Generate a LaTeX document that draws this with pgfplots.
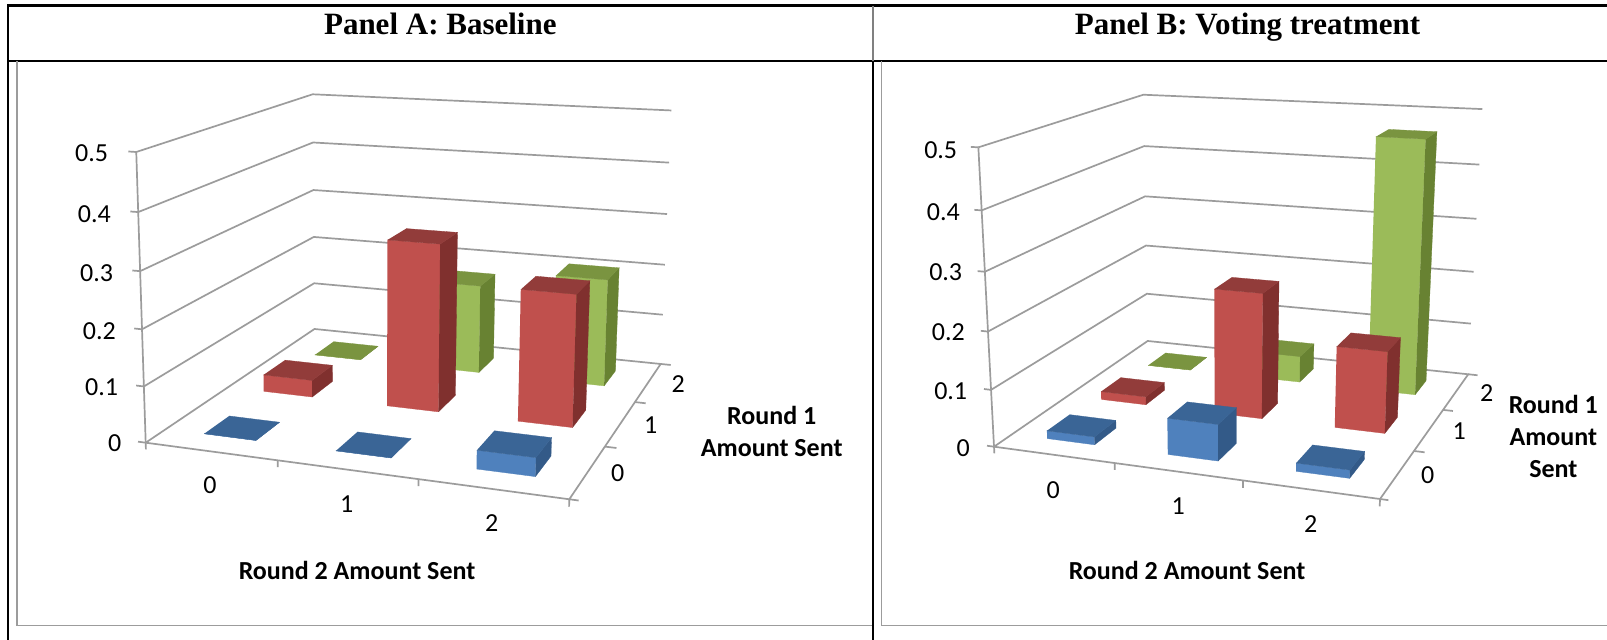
\documentclass[border=0pt]{standalone}
\usepackage{fontspec}
\setmainfont{Carlito}
\newfontfamily\timesf{Liberation Serif}
\usepackage{pgfplots}
\usepackage{pgfplotstable}
\pgfplotsset{compat=1.18}
\definecolor{Gf}{HTML}{9BBB59}\definecolor{Gt}{HTML}{7A9440}\definecolor{Gs}{HTML}{688232}
\definecolor{Rf}{HTML}{C0504D}\definecolor{Rt}{HTML}{923C3A}\definecolor{Rs}{HTML}{80302E}
\definecolor{Bf}{HTML}{4F81BD}\definecolor{Bt}{HTML}{3A6596}\definecolor{Bs}{HTML}{335A88}
\definecolor{ln}{HTML}{9C9C9C}
\pgfplotstableread{
U V W
0 0 0
1 0 0
1 0 1
0 0 1
}\FrontFace
\pgfplotstableread{
U V W
1 0 0
1 1 0
1 1 1
1 0 1
}\SideFace
\pgfplotstableread{
U V W
0 0 1
1 0 1
1 1 1
0 1 1
}\TopFace
% one projected polyline: X,Y in category units (0..3), Z = share
\newcommand\pl[2]{\addplot[ln,line width=0.85pt,#1] table[row sep=\\,
  x expr={pu(\thisrow{X},\thisrow{Y},\thisrow{Z})},
  y expr={pv(\thisrow{X},\thisrow{Y},\thisrow{Z})}]{X Y Z\\#2};}
\newcommand\face[5]{\addplot[fill=#5,draw=#5,line width=0.15pt] table[
  x expr={pu(#1+0.3+0.4*\thisrow{U},#2+0.3+0.4*\thisrow{V},#3*\thisrow{W})},
  y expr={pv(#1+0.3+0.4*\thisrow{U},#2+0.3+0.4*\thisrow{V},#3*\thisrow{W})}]{#4};}
% round 2 amount, round 1 amount, share, colour prefix
\newcommand\BarBox[4]{\face{#1}{#2}{#3}{\FrontFace}{#4f}\face{#1}{#2}{#3}{\SideFace}{#4s}\face{#1}{#2}{#3}{\TopFace}{#4t}}
\newcommand\WallBox{%
  \pl{}{0 0 0.1\\0 3 0.1\\3 3 0.1\\}\pl{}{0 0 0.2\\0 3 0.2\\3 3 0.2\\}
  \pl{}{0 0 0.3\\0 3 0.3\\3 3 0.3\\}\pl{}{0 0 0.4\\0 3 0.4\\3 3 0.4\\}
  \pl{}{0 0 0.5\\0 3 0.5\\3 3 0.5\\}
  \pl{}{0 0 0.5\\0 0 0\\}
  \pl{}{0 0 0\\0 3 0\\3 3 0\\3 0 0\\0 0 0\\}
  \pl{}{-0.06 0 0\\0 0 0\\}\pl{}{-0.06 0 0.1\\0 0 0.1\\}\pl{}{-0.06 0 0.2\\0 0 0.2\\}
  \pl{}{-0.06 0 0.3\\0 0 0.3\\}\pl{}{-0.06 0 0.4\\0 0 0.4\\}\pl{}{-0.06 0 0.5\\0 0 0.5\\}
  \pl{}{0 0 0\\0 0 -0.012\\}\pl{}{1 0 0\\1 0 -0.012\\}\pl{}{2 0 0\\2 0 -0.012\\}\pl{}{3 0 0\\3 0 -0.012\\}
  \pl{}{3 0 0\\3.06 0 0\\}\pl{}{3 1 0\\3.08 1 0\\}\pl{}{3 2 0\\3.08 2 0\\}\pl{}{3 3 0\\3.08 3 0\\}
}
\newcommand\tl[3]{\node[font=\fontsize{13}{15}\selectfont,inner sep=0pt,anchor=center] at (axis cs:#1,#2) {#3};}
\newcommand\bl[3]{\node[font=\fontsize{13}{15}\selectfont\bfseries,inner sep=0pt,anchor=base] at (axis cs:#1,#2) {#3};}
\newcommand\ttl[3]{\node[font=\fontsize{15.5}{17}\selectfont\timesf\bfseries,inner sep=0pt,anchor=base] at (axis cs:#1,#2) {#3};}
\pgfplotsset{canvas/.style={at={(0,0)},anchor=south west,width=803.5pt,height=320pt,scale only axis,
  xmin=0,xmax=1607,ymin=0,ymax=640,y dir=reverse,hide axis,clip=true}}
\begin{document}
\begin{tikzpicture}
\begin{axis}[canvas,
  declare function={
    pw(\x,\y,\z)=1-0.0953*\x/3+0.2487*\y/3-0.0407*\z/0.5;
    pu(\x,\y,\z)=(369.35*\x/3+247.0*\y/3-15*\z/0.5+145.7)/pw(\x,\y,\z);
    pv(\x,\y,\z)=(9.0*\x/3-31.9*\y/3-296.9*\z/0.5+442.7)/pw(\x,\y,\z);
  }]
\addplot[fill=white,draw=none] coordinates {(0,0) (1607,0) (1607,640) (0,640)};
% table rules
\addplot[black,line width=1.25pt] coordinates {(7,5.5) (1607,5.5)};
\addplot[black,line width=1pt] coordinates {(7.5,5) (7.5,640)};
\addplot[black,line width=0.8pt] coordinates {(7,61) (1607,61)};
\addplot[gray,line width=0.6pt] coordinates {(873,6) (873,61)};
\addplot[black,line width=1.1pt] coordinates {(873,61) (873,640)};
% panel A frame
\addplot[ln,line width=0.75pt] coordinates {(17,61) (17,625.7) (872,625.7)};
\WallBox
\BarBox{0}{2}{0}{G}\BarBox{1}{2}{0.172}{G}\BarBox{2}{2}{0.205}{G}
\BarBox{0}{1}{0.032}{R}\BarBox{1}{1}{0.308}{R}\BarBox{2}{1}{0.239}{R}
\BarBox{0}{0}{0}{B}\BarBox{1}{0}{0}{B}\BarBox{2}{0}{0.032}{B}
\ttl{440.3}{35}{Panel A: Baseline}
\tl{91.7}{153}{0.5}\tl{94.3}{214}{0.4}\tl{96.7}{273.3}{0.3}\tl{99.3}{331}{0.2}\tl{101.7}{386.7}{0.1}\tl{114.7}{443.3}{0}
\tl{210}{485}{0}\tl{346.7}{504.3}{1}\tl{491.7}{522.7}{2}
\tl{617.7}{473.3}{0}\tl{650.7}{425}{1}\tl{678.3}{384}{2}
\bl{771.7}{425}{Round 1}\bl{771.7}{456.7}{Amount Sent}
\bl{357}{580}{Round 2 Amount Sent}
\end{axis}
\begin{axis}[canvas,
  declare function={
    pw(\x,\y,\z)=1-0.0912*\x/3+0.2291*\y/3-0.0627*\z/0.5;
    pu(\x,\y,\z)=(260.1*\x/3+416.6*\y/3-77*\z/0.5+994)/pw(\x,\y,\z);
    pv(\x,\y,\z)=(6.8*\x/3-27.6*\y/3-308.6*\z/0.5+446.7)/pw(\x,\y,\z);
  }]
\addplot[ln,line width=0.75pt] coordinates {(881.7,61.5) (881.7,625.7) (1607,625.7)};
\WallBox
\BarBox{0}{2}{0}{G}\BarBox{1}{2}{0.05}{G}\BarBox{2}{2}{0.466}{G}
\BarBox{0}{1}{0.015}{R}\BarBox{1}{1}{0.226}{R}\BarBox{2}{1}{0.145}{R}
\BarBox{0}{0}{0.014}{B}\BarBox{1}{0}{0.063}{B}\BarBox{2}{0}{0.014}{B}
\ttl{1247.5}{35}{Panel B: Voting treatment}
\tl{940.7}{150}{0.5}\tl{943.3}{211.7}{0.4}\tl{945.7}{272.3}{0.3}\tl{948.3}{332.3}{0.2}\tl{950.7}{391}{0.1}\tl{963.3}{447.7}{0}
\tl{1053.3}{490}{0}\tl{1178.3}{506}{1}\tl{1310.7}{524}{2}
\tl{1427.7}{475}{0}\tl{1459.3}{431}{1}\tl{1486.7}{392.7}{2}
\bl{1553.3}{413.3}{Round 1}\bl{1553.3}{446}{Amount}\bl{1553.3}{477.7}{Sent}
\bl{1187}{580}{Round 2 Amount Sent}
\end{axis}
\end{tikzpicture}
\end{document}
